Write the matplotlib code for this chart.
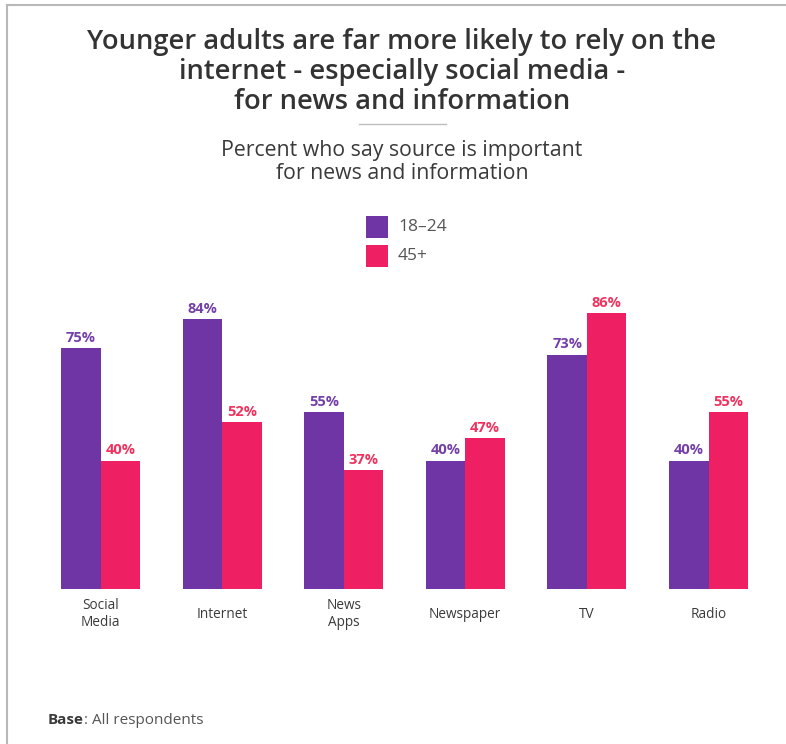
import matplotlib
matplotlib.use("Agg")
import matplotlib.pyplot as plt
from matplotlib.patches import Rectangle
from matplotlib.lines import Line2D
import numpy as np

# sources and the two age groups
categories = ["Social\nMedia", "Internet", "News\nApps", "Newspaper", "TV", "Radio"]
young = [75, 84, 55, 40, 73, 40]   # 18-24
older = [40, 52, 37, 47, 86, 55]   # 45+
series_names = ["18\u201324", "45+"]

PURPLE = "#6f35a5"
PINK = "#ef1f63"
PURPLE_TXT = "#7440a8"
PINK_TXT = "#f0325f"
GREY = "#3a3a3a"

plt.rcParams["font.family"] = ["Open Sans", "DejaVu Sans"]

W, H = 786, 744
fig = plt.figure(figsize=(W / 100, H / 100), dpi=100)

def fx(px):
    return px / W

def fy(py):
    return 1 - py / H

# frame line along top and left
fig.add_artist(Line2D([fx(7), fx(7)], [fy(5), 0], color="#b8b8b8", lw=1.5))
fig.add_artist(Line2D([fx(7), 1], [fy(5), fy(5)], color="#b8b8b8", lw=1.5))

# title block
fig.text(fx(402), fy(72), "Younger adults are far more likely to rely on the\n"
         "internet - especially social media -\nfor news and information",
         ha="center", va="center", fontsize=19.7, fontweight="semibold",
         color="#333333", linespacing=1.08)
fig.add_artist(Line2D([fx(359), fx(446)], [fy(124), fy(124)], color="#bdbdbd", lw=1))
fig.text(fx(402), fy(162), "Percent who say source is important\nfor news and information",
         ha="center", va="center", fontsize=15.3, color="#3a3a3a", linespacing=1.12)

# legend
for i, (name, col) in enumerate(zip(series_names, [PURPLE, PINK])):
    y0 = 216 + i * 29
    fig.add_artist(Rectangle((fx(366), fy(y0 + 22)), fx(22), 22 / H,
                             facecolor=col, edgecolor="none"))
    fig.text(fx(398), fy(y0 + 11), name, ha="left", va="center",
             fontsize=12.5, color="#555555")

# bar chart
ax = fig.add_axes([fx(39.7), fy(589), fx(729.6), 321 / H])
x = np.arange(len(categories))
w = 0.325
ax.bar(x - w / 2, young, width=w, color=PURPLE)
ax.bar(x + w / 2, older, width=w, color=PINK)

for xi, v in zip(x, young):
    ax.text(xi - w / 2, v + 3.2, f"{v}%", ha="center", va="center",
            fontsize=10.5, fontweight="bold", color=PURPLE_TXT)
for xi, v in zip(x, older):
    ax.text(xi + w / 2, v + 3.2, f"{v}%", ha="center", va="center",
            fontsize=10.5, fontweight="bold", color=PINK_TXT)

ax.set_xlim(-0.5, len(categories) - 0.5)
ax.set_ylim(0, 100)
ax.set_xticks(x)
ax.set_xticklabels(categories, fontsize=9.8, color=GREY, linespacing=1.1, va="center")
ax.tick_params(axis="x", length=0, pad=18)
ax.set_yticks([])
for s in ax.spines.values():
    s.set_visible(False)
ax.patch.set_alpha(0)

# footnote: bold "Base" followed by the regular part
base = fig.text(fx(48), fy(720), "Base", ha="left", va="center", fontsize=11,
                fontweight="bold", color="#3a3a3a")
fig.canvas.draw()
bb = base.get_window_extent()
fig.text(bb.x1 / W, fy(720), ": All respondents", ha="left", va="center",
         fontsize=11, color="#555555")

fig.savefig("out.png", dpi=100, facecolor="white")
